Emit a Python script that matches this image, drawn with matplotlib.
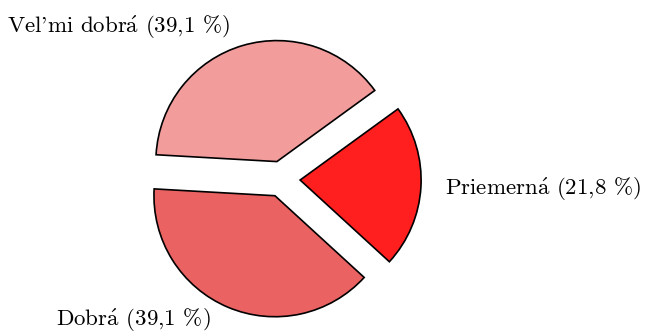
import matplotlib
matplotlib.use("Agg")
import matplotlib.pyplot as plt

# data
categories = ["Vel'mi dobr$\\mathrm{\\acute{a}}$", "Dobr$\\mathrm{\\acute{a}}$",
              "Priemern$\\mathrm{\\acute{a}}$"]
shares = [39.1, 39.1, 21.8]
colors = ["#f29c9c", "#ea6262", "#ff1f1f"]

plt.rcParams["font.family"] = ["cmr10", "DejaVu Serif"]
plt.rcParams["mathtext.fontset"] = "cm"

fig = plt.figure(figsize=(6.45, 3.34), dpi=100)
ax = fig.add_axes([0, 0, 1, 1])

ax.pie(shares, colors=colors, startangle=36, counterclock=True,
       explode=[0.15] * 3, radius=1.0,
       wedgeprops=dict(edgecolor="black", linewidth=1.2))

# label positions (data coords, pie radius = 1)
label_pos = [(-1.347, 1.256), (-1.227, -1.165), (2.161, -0.083)]
for name, val, (x, y) in zip(categories, shares, label_pos):
    txt = "%s (%s %%)" % (name, ("%.1f" % val).replace(".", ","))
    ax.text(x, y, txt, ha="center", va="center", fontsize=16.5)

ax.set_xlim(-282 / 121, 363 / 121)
ax.set_ylim(-155 / 121, 179 / 121)
ax.set_aspect("equal")
ax.axis("off")

fig.savefig("out.png", dpi=100)
